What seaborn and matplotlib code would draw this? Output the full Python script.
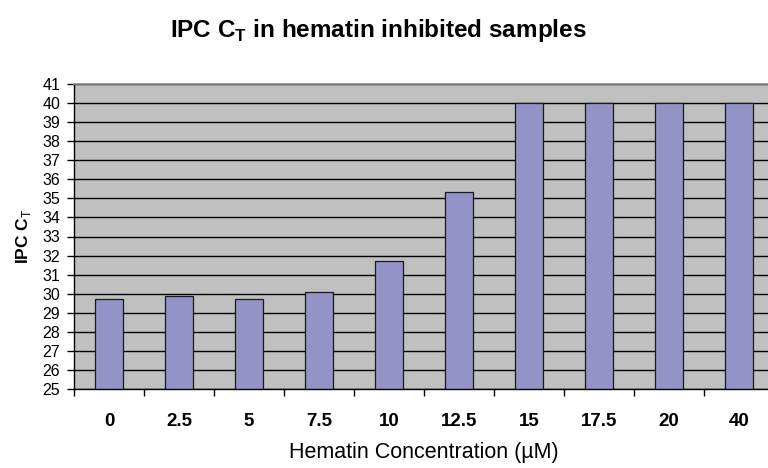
import matplotlib
matplotlib.use("Agg")
import matplotlib.pyplot as plt
import seaborn as sns
import pandas as pd
import numpy as np

# Hematin concentrations (µM) and measured IPC threshold cycles
concentrations = ["0", "2.5", "5", "7.5", "10", "12.5", "15", "17.5", "20", "40"]
ipc_ct = [29.70, 29.86, 29.72, 30.08, 31.74, 35.35, 40, 40, 40, 40]
y_ticks = list(range(25, 42))

df = pd.DataFrame({"conc": concentrations, "ct": ipc_ct})

sns.set_style("white")
plt.rcParams["font.family"] = ["Liberation Sans", "DejaVu Sans"]
plt.rcParams["mathtext.fontset"] = "custom"
plt.rcParams["mathtext.rm"] = "Liberation Sans"
plt.rcParams["mathtext.bf"] = "Liberation Sans:bold"
for key in ["text.color", "axes.labelcolor", "xtick.color", "ytick.color"]:
    plt.rcParams[key] = "black"

fig = plt.figure(figsize=(7.68, 4.68), dpi=100)
W, H = 768, 468
left, right, top, bottom = 74, 774, 84, 389
ax = fig.add_axes([left / W, 1 - bottom / H, (right - left) / W, (bottom - top) / H])

ax.set_facecolor("#C0C0C0")
sns.barplot(data=df, x="conc", y="ct", order=concentrations, color="#9393C8",
            saturation=1, width=0.4, edgecolor="#1a1a1a", linewidth=0.9, ax=ax)
for p in ax.patches:
    p.set_facecolor("#9393C8")

ax.set_ylim(25, 41)
ax.set_xlim(-0.5, len(concentrations) - 0.5)
ax.set_axisbelow(True)

# horizontal gridlines
ax.set_yticks(y_ticks)
ax.set_yticklabels([str(t) for t in y_ticks], fontsize=11.5)
ax.yaxis.grid(True, color="#000000", linewidth=1.0)
ax.xaxis.grid(False)

# category boundaries get tick marks, centres get labels
ax.set_xticks(np.arange(-0.5, len(concentrations), 1.0))
ax.set_xticklabels([])
ax.set_xticks(np.arange(len(concentrations)), minor=True)
ax.set_xticklabels(concentrations, minor=True, fontsize=13.5, fontweight="bold")
ax.tick_params(axis="x", which="major", direction="out", length=5, width=1, color="black", bottom=True)
ax.tick_params(axis="x", which="minor", length=0, pad=17)
ax.tick_params(axis="y", direction="out", length=5, width=1, color="black", left=True, pad=5)

for side in ["left", "bottom"]:
    ax.spines[side].set_color("black")
    ax.spines[side].set_linewidth(1.0)
ax.spines["top"].set_color("#8c8c8c")
ax.spines["top"].set_linewidth(1.2)
ax.spines["right"].set_color("#8c8c8c")

ax.set_xlabel("Hematin Concentration (µM)", fontsize=15.5, labelpad=9)
ax.set_ylabel(r"IPC C$_{\mathrm{T}}$", fontsize=12.5, fontweight="bold", labelpad=7)

fig.text(378 / W, 1 - 30 / H, r"IPC C$_{\mathbf{T}}$ in hematin inhibited samples",
         ha="center", va="center", fontsize=17.5, fontweight="bold")

fig.savefig("out.png", dpi=100)
